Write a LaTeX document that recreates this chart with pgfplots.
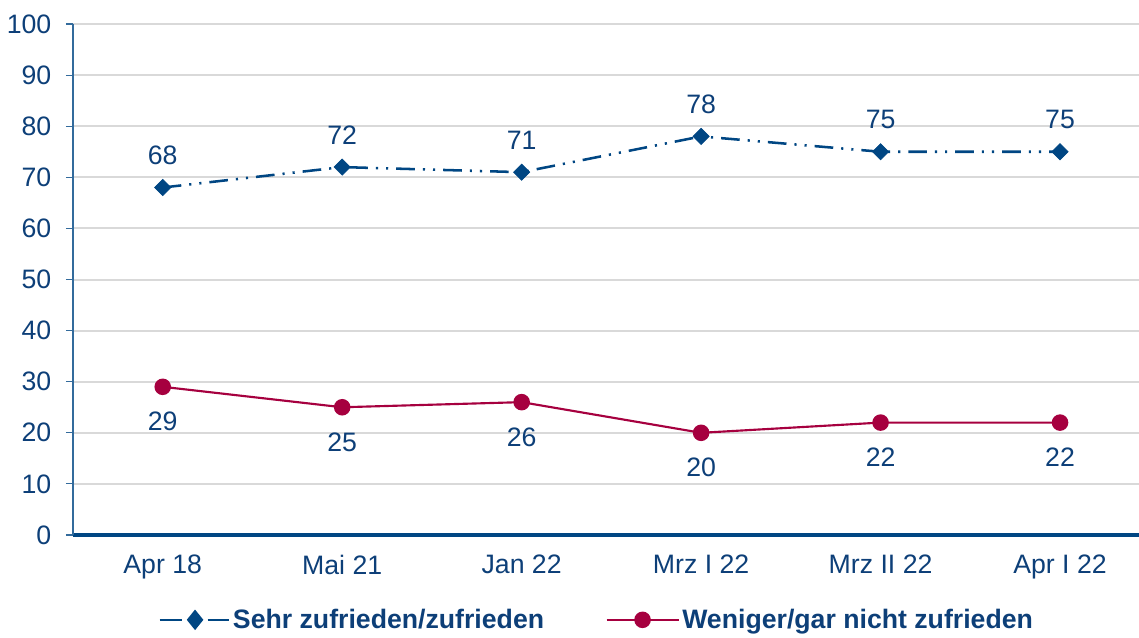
\documentclass[border=0pt]{standalone}
\usepackage{fontspec}
\setmainfont{Liberation Sans}
\usepackage{pgfplots}
\pgfplotsset{compat=1.18}
\definecolor{dblue}{HTML}{004683}
\definecolor{tblue}{HTML}{0D3F78}
\definecolor{dred}{HTML}{A6003F}
\definecolor{gridg}{HTML}{D9D9D9}
\begin{document}
\begin{tikzpicture}
\begin{axis}[
  at={(0,0)}, anchor=south west,
  scale only axis,
  width=799.5pt, height=383.25pt,
  xmin=-0.5, xmax=5.44,
  ymin=0, ymax=100,
  ytick={0,10,...,100},
  xtick={0,...,5},
  xticklabels={Apr 18, Mai 21, Jan 22, Mrz I 22, Mrz II 22, Apr I 22},
  axis x line*=bottom, axis y line*=left,
  x axis line style={draw=dblue, line width=2.6pt, -},
  y axis line style={draw=dblue!80, line width=0.8pt, -},
  ymajorgrids, grid style={gridg, line width=1.5pt},
  major x tick style={draw=none},
  major y tick style={draw=dblue!80, line width=0.8pt},
  tick align=outside,
  major tick length=5.25pt,
  ticklabel style={font=\fontsize{20}{23}\selectfont, text=tblue},
  yticklabel style={xshift=-7.5pt},
  xticklabel style={yshift=-6pt},
  /pgf/number format/assume math mode=true,
  clip=false,
  nodes near coords,
  every node near coord/.append style={font=\fontsize{20}{23}\selectfont, text=tblue, anchor=center},
  legend columns=2,
  legend style={at={(0.4916,-0.166)}, anchor=center, draw=none, fill=none,
    font=\bfseries\fontsize{20}{23}\selectfont, text=tblue,
    /tikz/every even column/.append style={column sep=44pt}},
]
\addplot[dblue, line width=1.9pt, dash pattern=on 14pt off 6pt on 1.6pt off 6pt on 1.6pt off 6pt,
  mark=square*, mark size=4.3pt, mark options={solid, rotate=45, fill=dblue, draw=dblue, line width=0.5pt},
  every node near coord/.append style={yshift=24pt},
  legend image code/.code={
    \draw[solid, line width=1.9pt] (-2pt,0pt) -- (15pt,0pt);
    \draw[solid, line width=1.9pt] (34pt,0pt) -- (50pt,0pt);
    \fill[solid, dblue] (24.5pt,0pt) +(0,6.2pt) -- +(5pt,0) -- +(0,-6.2pt) -- +(-5pt,0) -- cycle;
  }]
  coordinates {(0,68) (1,72) (2,71) (3,78) (4,75) (5,75)};
\addlegendentry{Sehr zufrieden/zufrieden}
\addplot[dred, line width=1.6pt, mark=*, mark size=5.4pt, mark options={fill=dred, draw=dred},
  every node near coord/.append style={yshift=-26.25pt},
  legend image code/.code={
    \draw[line width=1.6pt] (0pt,0pt) -- (54pt,0pt);
    \fill[dred] (27pt,0pt) circle (5.4pt);
  }]
  coordinates {(0,29) (1,25) (2,26) (3,20) (4,22) (5,22)};
\addlegendentry{Weniger/gar nicht zufrieden}
\end{axis}
\pgfresetboundingbox
\useasboundingbox (-54.75pt,-76.5pt) rectangle (799.5pt,401.25pt);
\end{tikzpicture}
\end{document}
